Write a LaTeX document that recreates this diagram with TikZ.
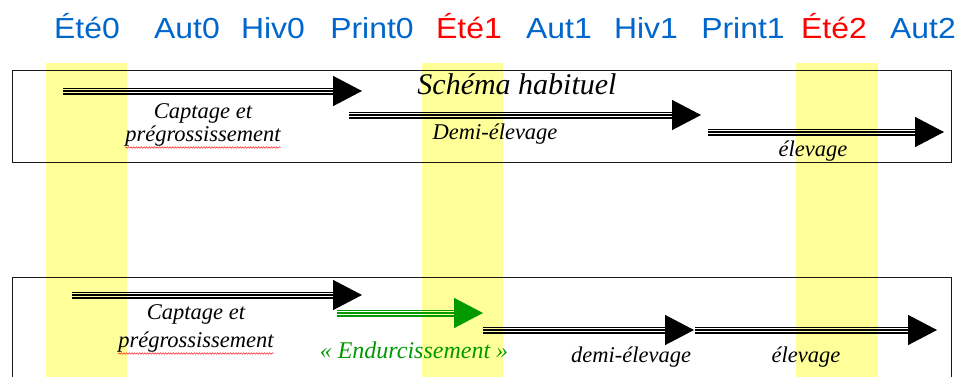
\documentclass[tikz,border=0pt]{standalone}
\usepackage{fontspec}
\setmainfont{Liberation Serif}
\newfontfamily\labelfont{Liberation Sans}
\usetikzlibrary{arrows.meta,decorations.pathmorphing}

\definecolor{seasonblue}{RGB}{0,102,204}
\definecolor{summerred}{RGB}{255,0,0}
\definecolor{bandyellow}{RGB}{255,255,153}
\definecolor{hardgreen}{RGB}{0,153,0}

\tikzset{
  season/.style={font=\labelfont\fontsize{29}{29}\selectfont, text=seasonblue,
    anchor=base, inner sep=0pt, xscale=1.1},
  summer/.style={season, text=summerred},
  phase/.style={font=\itshape\fontsize{22.5}{26}\selectfont, anchor=base, inner sep=0pt},
  title/.style={font=\itshape\fontsize{30}{34}\selectfont, anchor=base, inner sep=0pt},
  frame/.style={draw=black!90, line width=0.9pt},
  band/.style={fill=bandyellow, draw=none},
  % triple-lined shaft with a solid triangular head
  triple/.style={draw=#1, line width=1.4pt,
    -{Triangle[length=29pt,width=30pt]},
    preaction={draw=#1, line width=7pt, -, shorten >=20pt},
    preaction={draw=white, line width=4.2pt, -, shorten >=20pt}},
  triple/.default=black,
  spell/.style={draw=red, line width=0.4pt, decorate,
    decoration={snake, amplitude=0.8pt, segment length=2.6pt}}
}

\begin{document}
\begin{tikzpicture}[x=1pt,y=-1pt]
  \useasboundingbox (0,0) rectangle (966,376);
  \clip (0,0) rectangle (966,376);

  % season labels
  \node[season] (s0) at (87,38)  {Été0};
  \node[season] (a0) at (187,38) {Aut0};
  \node[season] (h0) at (273,38) {Hiv0};
  \node[season] (p0) at (372,38) {Print0};
  \node[summer] (s1) at (469,38) {Été1};
  \node[season] (a1) at (559,38) {Aut1};
  \node[season] (h1) at (646,38) {Hiv1};
  \node[season] (p1) at (743,38) {Print1};
  \node[summer] (s2) at (834,38) {Été2};
  \node[season] (a2) at (923,38) {Aut2};

  % frames
  \draw[frame] (12,70) rectangle (951,162);
  \draw[frame] (12,277) rectangle (951,400);

  % usual scheme
  \node[title] (hab) at (517,94) {Schéma habituel};

  \coordinate (u1s) at (63,91);   \coordinate (u1e) at (362,91);
  \coordinate (u2s) at (349,115); \coordinate (u2e) at (701,115);
  \coordinate (u3s) at (708,132); \coordinate (u3e) at (944,132);
  \draw[triple] (u1s) -- (u1e);
  \draw[triple] (u2s) -- (u2e);
  \draw[triple] (u3s) -- (u3e);

  \node[phase] (uc1) at (203,118) {Captage et};
  \node[phase] (uc2) at (203,141) {prégrossissement};
  \draw[spell] ([yshift=-6.5pt]uc2.base west) -- ([yshift=-6.5pt]uc2.base east);
  \node[phase] (ud) at (495,139) {Demi-élevage};
  \node[phase] (ue) at (813,156) {élevage};

  % scheme with hardening
  \coordinate (h1s) at (72,295);  \coordinate (h1e) at (362,295);
  \coordinate (h2s) at (337,313); \coordinate (h2e) at (483,313);
  \coordinate (h3s) at (483,330); \coordinate (h3e) at (694,330);
  \coordinate (h4s) at (695,330); \coordinate (h4e) at (937,330);
  \draw[triple] (h1s) -- (h1e);
  \draw[triple=hardgreen] (h2s) -- (h2e);
  \draw[triple] (h3s) -- (h3e);
  \draw[triple] (h4s) -- (h4e);

  \node[phase] (hc1) at (196,319) {Captage et};
  \node[phase] (hc2) at (196,347) {prégrossissement};
  \draw[spell] ([yshift=-6.5pt]hc2.base west) -- ([yshift=-6.5pt]hc2.base east);
  \node[phase, text=hardgreen, font=\itshape\fontsize{24}{28}\selectfont] (hend) at (414,358) {« Endurcissement »};
  \node[phase] (hd) at (631,362) {demi-élevage};
  \node[phase] (he) at (806,362) {élevage};

  % summer bands, tinting whatever lies beneath
  \begin{scope}[blend mode=multiply]
    \fill[band] (46,63) rectangle (127,380);
    \fill[band] (422,63) rectangle (503,380);
    \fill[band] (796,63) rectangle (878,380);
  \end{scope}
\end{tikzpicture}
\end{document}
